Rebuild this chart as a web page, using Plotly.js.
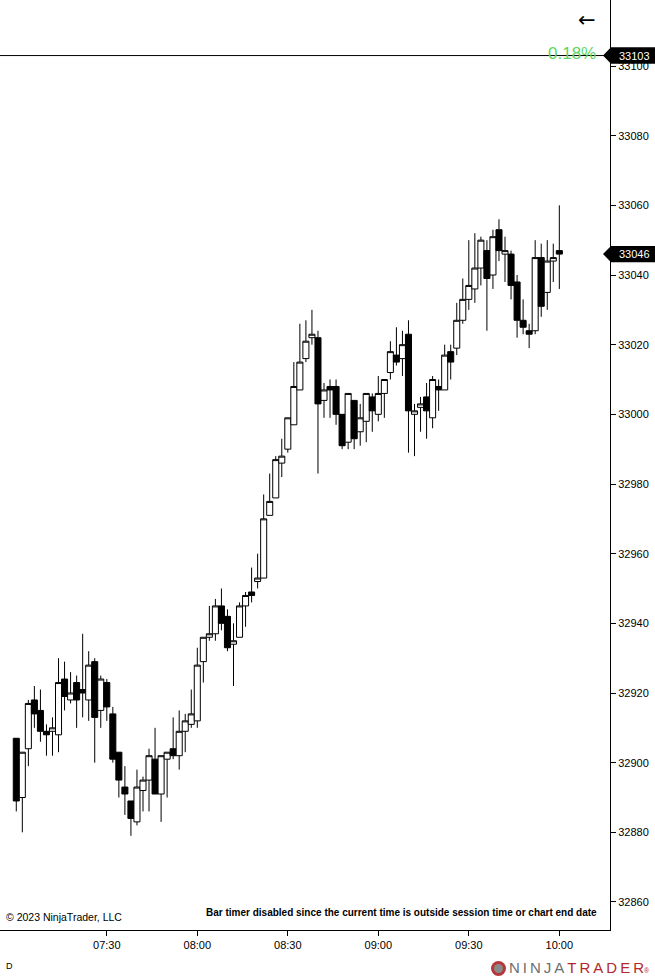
<!DOCTYPE html>
<html>
<head>
<meta charset="utf-8">
<script src="https://cdn.plot.ly/plotly-3.0.1.min.js"></script>
<style>
  html, body { margin: 0; padding: 0; background: #fff; }
  #chart { width: 655px; height: 977px; }
</style>
</head>
<body>
<div id="chart"></div>
<script>
// ---- data (2-minute bars) ----
const day = '2023-06-01';
const times = [
  '07:00','07:02','07:04','07:06','07:08','07:10','07:12','07:14','07:16','07:18',
  '07:20','07:22','07:24','07:26','07:28','07:30','07:32','07:34','07:36','07:38',
  '07:40','07:42','07:44','07:46','07:48','07:50','07:52','07:54','07:56','07:58',
  '08:00','08:02','08:04','08:06','08:08','08:10','08:12','08:14','08:16','08:18',
  '08:20','08:22','08:24','08:26','08:28','08:30','08:32','08:34','08:36','08:38',
  '08:40','08:42','08:44','08:46','08:48','08:50','08:52','08:54','08:56','08:58',
  '09:00','09:02','09:04','09:06','09:08','09:10','09:12','09:14','09:16','09:18',
  '09:20','09:22','09:24','09:26','09:28','09:30','09:32','09:34','09:36','09:38',
  '09:40','09:42','09:44','09:46','09:48','09:50','09:52','09:54','09:56','09:58',
  '10:00'
];
const opens = [32907,32890,32904,32918,32915,32909,32909,32908,32924,32918,
  32923,32921,32918,32929,32915,32923,32914,32903,32893,32889,
  32883,32892,32895,32901,32891,32901,32904,32902,32909,32911,
  32912,32929,32936,32937,32945,32942,32934,32936,32945,32949,
  32952,32953,32971,32976,32986,32990,32997,33007,33016,33022,
  33022,33004,33008,33008,33000,32992,33004,32995,32998,33005,
  33000,33006,33012,33017,33016,33023,33000,33002,33005,32999,
  33008,33007,33018,33019,33027,33033,33036,33042,33047,33040,
  33053,33046,33046,33038,33027,33024,33024,33045,33035,33044,
  33047];
const highs = [32907,32903,32918,32922,32921,32911,32913,32930,32929,32926,
  32925,32937,32932,32930,32925,32924,32916,32903,32899,32889,
  32898,32896,32904,32910,32902,32903,32913,32915,32914,32921,
  32933,32936,32945,32947,32950,32944,32940,32946,32949,32956,
  32960,32977,32983,32988,32993,32999,33015,33026,33027,33030,
  33024,33009,33010,33010,33000,33006,33004,33003,33006,33006,
  33011,33010,33021,33025,33024,33027,33003,33005,33009,33011,
  33010,33020,33020,33032,33039,33050,33052,33051,33050,33053,
  33056,33051,33047,33040,33033,33026,33050,33049,33050,33049,
  33060];
const lows = [32886,32880,32899,32910,32906,32902,32902,32903,32915,32917,
  32910,32913,32912,32900,32910,32912,32900,32890,32885,32879,
  32882,32886,32886,32891,32883,32890,32901,32898,32903,32910,
  32910,32923,32935,32935,32938,32932,32922,32936,32939,32946,
  32950,32953,32971,32976,32982,32989,32997,33007,33015,33020,
  32983,32999,32999,32997,32990,32990,32990,32991,32992,32995,
  32998,32999,33010,33014,33011,32989,32988,32995,32993,32996,
  33001,33007,33010,33017,33026,33030,33032,33037,33024,33036,
  33044,33038,33033,33022,33023,33019,33023,33028,33030,33038,
  33036];
const closes = [32889,32903,32917,32914,32909,32908,32910,32923,32919,32920,
  32918,32920,32928,32913,32924,32916,32901,32895,32891,32884,
  32893,32895,32902,32891,32902,32903,32902,32909,32912,32914,
  32928,32936,32937,32945,32940,32933,32935,32945,32948,32948,
  32953,32970,32975,32987,32988,32999,33008,33015,33021,33023,
  33003,33007,33007,33000,32991,33006,32993,32999,33006,33001,
  33006,33010,33018,33015,33020,33001,33001,33003,33001,33010,
  33007,33017,33015,33027,33033,33037,33042,33050,33039,33051,
  33047,33047,33037,33027,33025,33023,33045,33031,33044,33045,
  33046];
const tickTimes = ['07:30','08:00','08:30','09:00','09:30','10:00'];
const lastPrice = 33046;
const refPrice = 33103;
const changeText = '0.18%';

// ---- build ----
const xs = times.map(t => day + ' ' + t);
const tickVals = tickTimes.map(t => day + ' ' + t);

const trace = {
  type: 'candlestick',
  x: xs, open: opens, high: highs, low: lows, close: closes,
  increasing: { line: { color: '#000000', width: 1 }, fillcolor: '#ffffff' },
  decreasing: { line: { color: '#000000', width: 1 }, fillcolor: '#000000' },
  whiskerwidth: 0,
  hoverinfo: 'none',
  showlegend: false
};

const FONT = 'Liberation Sans, Arial, sans-serif';
const plotW = 610, plotH = 930;
const px = v => v / plotW;
const py = v => (plotH - v) / plotH;

function tagPath(price) {
  const h = 2.35; // half height in price units (~8px)
  const xp = px(603), xb = px(611), xe = px(656);
  return `M ${xp} ${price} L ${xb} ${price + h} L ${xe} ${price + h} L ${xe} ${price - h} L ${xb} ${price - h} Z`;
}

const layout = {
  width: 655, height: 977,
  margin: { l: 0, r: 45, t: 0, b: 47, pad: 0 },
  paper_bgcolor: '#ffffff', plot_bgcolor: '#ffffff',
  font: { family: FONT, size: 11, color: '#000' },
  boxgap: 0,
  boxgroupgap: 0,
  showlegend: false,
  xaxis: {
    type: 'date',
    range: [day + ' 06:54:36', day + ' 10:16:48'],
    rangeslider: { visible: false },
    showgrid: false, zeroline: false,
    showline: true, linecolor: '#000', linewidth: 1,
    ticks: 'outside', ticklen: 5, tickcolor: '#000', tickwidth: 1,
    tickvals: tickVals, ticktext: tickTimes,
    tickfont: { family: FONT, size: 11, color: '#000' },
    fixedrange: true
  },
  yaxis: {
    side: 'right',
    range: [32851.96, 33118.95],
    dtick: 20, tick0: 0,
    tickformat: 'd',
    showgrid: false, zeroline: false,
    showline: true, linecolor: '#000', linewidth: 1,
    ticks: 'outside', ticklen: 5, tickcolor: '#000', tickwidth: 1,
    tickfont: { family: FONT, size: 11, color: '#000' },
    fixedrange: true
  },
  shapes: [
    { type: 'line', xref: 'paper', yref: 'y', x0: 0, x1: 1, y0: refPrice, y1: refPrice,
      line: { color: '#000', width: 1 } },
    { type: 'path', xref: 'paper', yref: 'y', path: tagPath(refPrice),
      fillcolor: '#000', line: { width: 0 } },
    { type: 'path', xref: 'paper', yref: 'y', path: tagPath(lastPrice),
      fillcolor: '#000', line: { width: 0 } },
    { type: 'circle', xref: 'paper', yref: 'paper',
      x0: px(491), x1: px(506), y0: py(976), y1: py(961),
      fillcolor: '#b5373a', line: { width: 0 } },
    { type: 'circle', xref: 'paper', yref: 'paper',
      x0: px(494), x1: px(503), y0: py(973), y1: py(964),
      fillcolor: '#8a8a8a', line: { width: 0 } }
  ],
  annotations: [
    { xref: 'paper', yref: 'paper', x: px(587), y: py(20), text: '←', showarrow: false,
      font: { family: 'DejaVu Sans', size: 21, color: '#000' }, xanchor: 'center', yanchor: 'middle' },
    { xref: 'paper', yref: 'paper', x: px(598), y: py(53), text: changeText, showarrow: false,
      font: { family: FONT, size: 17, color: '#5cd65c' }, xanchor: 'right', yanchor: 'middle' },
    { xref: 'paper', yref: 'y', x: px(634), y: refPrice, text: String(refPrice), showarrow: false,
      font: { family: FONT, size: 11, color: '#ffffff' }, xanchor: 'center', yanchor: 'middle' },
    { xref: 'paper', yref: 'y', x: px(634), y: lastPrice, text: String(lastPrice), showarrow: false,
      font: { family: FONT, size: 11, color: '#ffffff' }, xanchor: 'center', yanchor: 'middle' },
    { xref: 'paper', yref: 'paper', x: px(4), y: py(917), text: '© 2023 NinjaTrader, LLC', showarrow: false,
      font: { family: FONT, size: 10.5, color: '#000' }, xanchor: 'left', yanchor: 'middle' },
    { xref: 'paper', yref: 'paper', x: px(599), y: py(912),
      text: '<b>Bar timer disabled since the current time is outside session time or chart end date</b>',
      showarrow: false, font: { family: FONT, size: 10, color: '#000' }, xanchor: 'right', yanchor: 'middle' },
    { xref: 'paper', yref: 'paper', x: px(4), y: py(966), text: 'D', showarrow: false,
      font: { family: FONT, size: 9, color: '#000' }, xanchor: 'left', yanchor: 'middle' },
    { xref: 'paper', yref: 'paper', x: px(507), y: py(968),
      text: '<span style="color:#6d6e71">N\u2009I\u2009N\u2009J\u2009A\u2009</span><span style="color:#b5272d">T\u2009R\u2009A\u2009D\u2009E\u2009R</span><span style="color:#b5272d;font-size:7px">®</span>',
      showarrow: false, font: { family: FONT, size: 15, color: '#6d6e71' }, xanchor: 'left', yanchor: 'middle' }
  ]
};

Plotly.newPlot('chart', [trace], layout, { staticPlot: true, displayModeBar: false });
</script>
</body>
</html>
